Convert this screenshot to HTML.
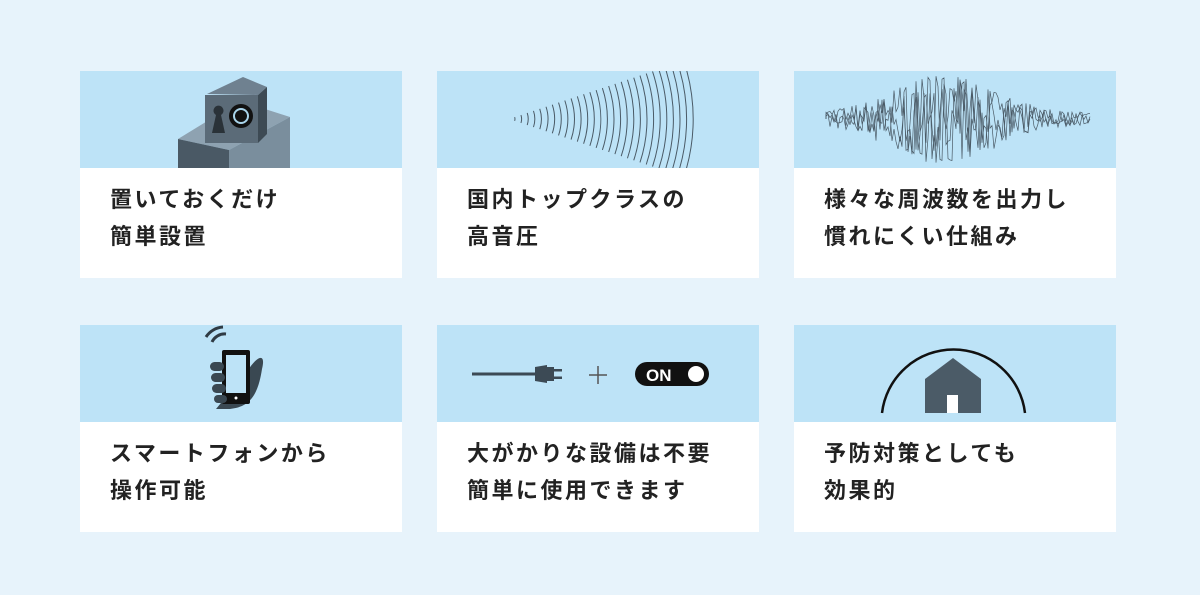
<!DOCTYPE html><html><head><meta charset="utf-8"><style>
body{margin:0;width:1200px;height:595px;background:#e7f3fb;position:relative;overflow:hidden;font-family:"Liberation Sans","Noto Sans CJK JP",sans-serif}
.c{position:absolute;width:322px;height:207px;background:#fff}
.b{position:absolute;left:0;top:0;width:322px;height:97px;background:#bde3f7;overflow:hidden}
.t{position:absolute;left:30px;top:110px;font-size:22px;font-weight:bold;line-height:37px;color:#222;letter-spacing:2.5px;white-space:nowrap}
svg{position:absolute;left:0;top:0}
</style></head><body>
<div class="c" style="left:80px;top:71px"><div class="b"><svg width="322" height="97">
<polygon points="98,68 160,30 210,46 149,79" fill="#8ea2b1"/>
<polygon points="98,68 149,79 149,97 98,97" fill="#4a5965"/>
<polygon points="149,79 210,46 210,97 149,97" fill="#7a8e9d"/>
<polygon points="127,23 163,6 187,16 178,24" fill="#6f8190"/>
<polygon points="178,24 187,16 187,63 178,72" fill="#3d4a54"/>
<polygon points="125,24 178,24 178,72 125,72" fill="#5b6b78"/>
<path d="M132 62 L136 44 A5 5 0 1 1 141 44 L145 62Z" fill="#2a3238"/>
<circle cx="161" cy="45" r="12" fill="#111"/><circle cx="161" cy="45" r="7" fill="none" stroke="#a9d4ea" stroke-width="2"/>
</svg></div><div class="t">置いておくだけ<br>簡単設置</div></div>
<div class="c" style="left:437px;top:71px"><div class="b"><svg id="w" width="322" height="97"></svg></div><div class="t">国内トップクラスの<br>高音圧</div></div>
<div class="c" style="left:794px;top:71px"><div class="b"><svg id="n" width="322" height="97"></svg></div><div class="t">様々な周波数を出力し<br>慣れにくい仕組み</div></div>
<div class="c" style="left:80px;top:325px"><div class="b"><svg width="322" height="97">
<path d="M132 17 A14 14 0 0 1 146 9" fill="none" stroke="#2f3b44" stroke-width="3"/>
<path d="M126 12 A22 22 0 0 1 143 2" fill="none" stroke="#2f3b44" stroke-width="3"/>
<path d="M168 45 C178 30 186 28 182 44 C178 70 170 82 150 84 L136 84 Z" fill="#3a4852"/>
<rect x="142" y="25" width="28" height="54" rx="2" fill="#111"/><rect x="146" y="30" width="20" height="38" fill="#bde3f7"/>
<circle cx="156" cy="73" r="1.5" fill="#fff"/>
<rect x="130" y="37" width="14" height="9" rx="4.5" fill="#3a4852"/><rect x="131" y="48" width="14" height="9" rx="4.5" fill="#3a4852"/><rect x="132" y="59" width="14" height="9" rx="4.5" fill="#3a4852"/><rect x="134" y="70" width="13" height="8" rx="4" fill="#3a4852"/>
</svg></div><div class="t">スマートフォンから<br>操作可能</div></div>
<div class="c" style="left:437px;top:325px"><div class="b"><svg width="322" height="97">
<line x1="35" y1="49" x2="100" y2="49" stroke="#3c4a55" stroke-width="3"/>
<path d="M98 42 L110 40 L110 58 L98 56Z" fill="#3c4a55"/><rect x="110" y="42" width="7" height="14" fill="#3c4a55"/>
<rect x="117" y="44" width="8" height="2.5" fill="#3c4a55"/><rect x="117" y="51.5" width="8" height="2.5" fill="#3c4a55"/>
<line x1="161" y1="41" x2="161" y2="59" stroke="#555" stroke-width="1.5"/><line x1="152" y1="50" x2="170" y2="50" stroke="#555" stroke-width="1.5"/>
<rect x="198" y="37" width="74" height="24" rx="12" fill="#111"/>
<text x="209" y="56" fill="#fff" font-size="17" font-weight="bold" font-family="Liberation Sans">ON</text>
<circle cx="259" cy="49" r="8" fill="#fff"/>
</svg></div><div class="t">大がかりな設備は不要<br>簡単に使用できます</div></div>
<div class="c" style="left:794px;top:325px"><div class="b"><svg width="322" height="97">
<path d="M88 88 A72 72 0 0 1 231 88" fill="none" stroke="#111" stroke-width="2.5"/>
<polygon points="131,54 159,33 187,54 187,88 131,88" fill="#4b5b67"/>
<rect x="153" y="70" width="11" height="18" fill="#fff"/>
</svg></div><div class="t">予防対策としても<br>効果的</div></div>
<script>
var w=document.getElementById('w'),s='';
for(var i=0;i<28;i++){var r=6+i*6.6,a=0.32;var cx=72,cy=48;
var x1=cx+r*Math.cos(a),y1=cy-r*Math.sin(a),y2=cy+r*Math.sin(a);
s+='<path d="M'+x1+' '+y1+' A'+r+' '+r+' 0 0 1 '+x1+' '+y2+'" fill="none" stroke="#4a5a66" stroke-width="1"/>';}
w.innerHTML=s;
var n=document.getElementById('n'),t='';var seed=3;function rnd(){seed=(seed*9301+49297)%233280;return seed/233280;}
for(var k=0;k<3;k++){var p='M32 48';for(var x=32;x<=296;x+=2){var env=Math.exp(-Math.pow((x-150)/70,2))*40+6;p+=' L'+x+' '+(48+(rnd()*2-1)*env).toFixed(1);}
t+='<path d="'+p+'" fill="none" stroke="#4a5a66" stroke-width="0.7"/>';}
n.innerHTML=t;
</script>
</body></html>
